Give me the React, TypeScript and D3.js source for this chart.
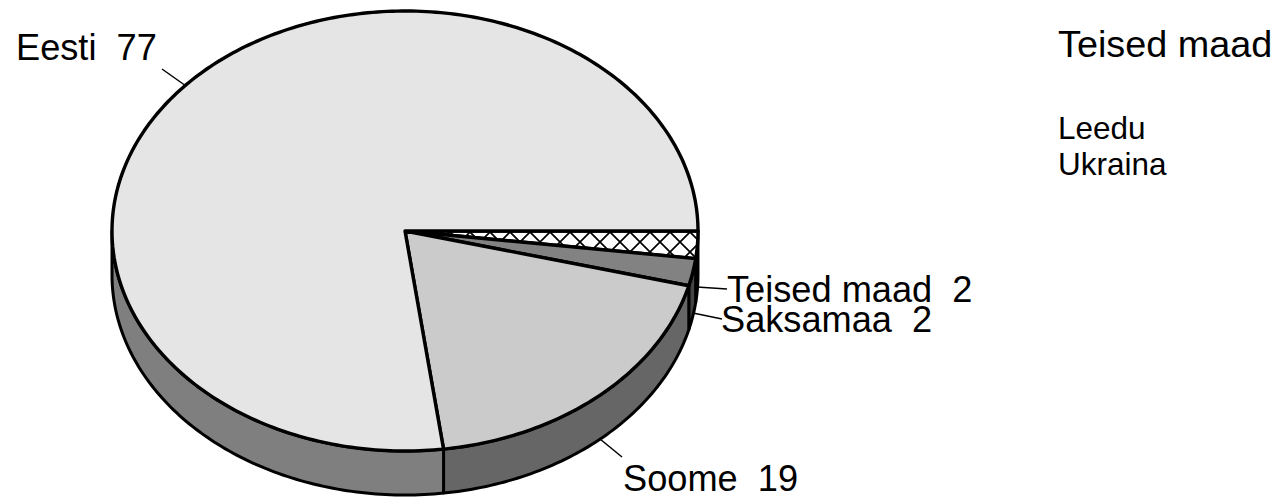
import React from "react";
import * as d3 from "d3";

const sliceNames = ["Teised maad", "Saksamaa", "Soome", "Eesti"];
const sliceValues = [2, 2, 18.9, 77.1];
const topFills = ["url(#hatch)", "#828282", "#cbcbcb", "#e5e5e5"];
const wallFills = ["#222222", "#444444", "#666666", "#7f7f7f"];
const labels = [
  { text: "Eesti  77", x: 16, y: 60, lx1: 162, ly1: 69, lx2: 186, ly2: 86 },
  { text: "Teised maad  2", x: 727, y: 302, lx1: 727, ly1: 289, lx2: 697, ly2: 287 },
  { text: "Saksamaa  2", x: 721, y: 332, lx1: 722, ly1: 319, lx2: 693, ly2: 313 },
  { text: "Soome  19", x: 623, y: 491, lx1: 622, ly1: 457, lx2: 600, ly2: 439 },
];
const sideTitle = "Teised maad";
const sideItems = ["Leedu", "Ukraina"];

const cx = 405, cy = 231, rx = 293, ry = 220, depth = 44;

export default function App() {
  const pie = d3.pie<number>().sort(null).startAngle(Math.PI / 2).endAngle(Math.PI / 2 + 2 * Math.PI);
  const arcs = pie(sliceValues);
  const px = (a: number) => cx + rx * Math.sin(a);
  const py = (a: number, dy = 0) => cy - ry * Math.cos(a) + dy;
  const sample = (a0: number, a1: number) => {
    const n = Math.max(2, Math.ceil((a1 - a0) * 60));
    return d3.range(n + 1).map((i) => a0 + ((a1 - a0) * i) / n);
  };
  const sector = (a0: number, a1: number) =>
    d3.line()([[cx, cy], ...sample(a0, a1).map((a) => [px(a), py(a)] as [number, number])]) + "Z";
  const wall = (a0: number, a1: number) => {
    const end = Math.min(a1, Math.PI * 1.5);
    if (a0 >= end) return null;
    const angles = sample(a0, end);
    const top = angles.map((a) => [px(a), py(a)] as [number, number]);
    const bottom = angles.slice().reverse().map((a) => [px(a), py(a, depth)] as [number, number]);
    return d3.line()([...top, ...bottom]) + "Z";
  };
  return (
    <svg
      width={1281}
      height={498}
      style={{ position: "absolute", left: 0, top: 0, background: "#fff" }}
      fontFamily="'Liberation Sans', Arial, sans-serif"
    >
      <defs>
        <pattern id="hatch" width={20} height={20} patternUnits="userSpaceOnUse" patternTransform="translate(610 232)">
          <rect width={20} height={20} fill="#fff" />
          <path d="M0 0L20 20M20 0L0 20" stroke="#000" strokeWidth={1.7} />
        </pattern>
      </defs>
      {arcs.map((d, i) => {
        const p = wall(d.startAngle, d.endAngle);
        return p ? <path key={i} d={p} fill={wallFills[i]} stroke="#000" strokeWidth={3} strokeLinejoin="round" /> : null;
      })}
      <g>
        {arcs.map((d, i) => (
          <path
            key={i}
            d={sector(d.startAngle, d.endAngle)}
            fill={topFills[i]}
            stroke="#000"
            strokeWidth={3.4}
            strokeLinejoin="round"
            data-name={sliceNames[i]}
          />
        ))}
      </g>
      {labels.map((l) => (
        <g key={l.text}>
          <line x1={l.lx1} y1={l.ly1} x2={l.lx2} y2={l.ly2} stroke="#000" strokeWidth={1.5} />
          <text x={l.x} y={l.y} fontSize={36.2} fill="#000" style={{ whiteSpace: "pre" }}>{l.text}</text>
        </g>
      ))}
      <text x={1058} y={57} fontSize={37.8} fill="#000">{sideTitle}</text>
      {sideItems.map((s, i) => (
        <text key={s} x={1058} y={139 + i * 36} fontSize={31.5} fill="#000">{s}</text>
      ))}
    </svg>
  );
}
